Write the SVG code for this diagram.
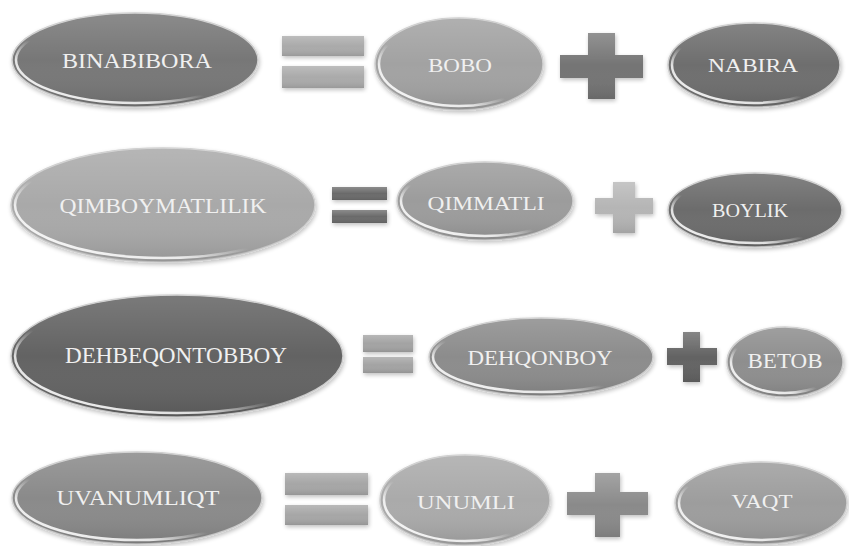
<svg xmlns="http://www.w3.org/2000/svg" width="849" height="546" viewBox="0 0 849 546">
<defs>
  <linearGradient id="shade" x1="0" y1="0" x2="0" y2="1">
    <stop offset="0" stop-color="#ffffff" stop-opacity="0.15"/>
    <stop offset="0.5" stop-color="#ffffff" stop-opacity="0"/>
    <stop offset="1" stop-color="#000000" stop-opacity="0.12"/>
  </linearGradient>
  <linearGradient id="gloss" x1="0" y1="1" x2="0.7" y2="0.2">
    <stop offset="0" stop-color="#ffffff" stop-opacity="0.95"/>
    <stop offset="0.35" stop-color="#ffffff" stop-opacity="0.8"/>
    <stop offset="0.55" stop-color="#ffffff" stop-opacity="0"/>
  </linearGradient>
  <linearGradient id="bar" x1="0" y1="0" x2="0" y2="1">
    <stop offset="0" stop-color="#ffffff" stop-opacity="0.22"/>
    <stop offset="0.5" stop-color="#ffffff" stop-opacity="0"/>
    <stop offset="1" stop-color="#000000" stop-opacity="0.1"/>
  </linearGradient>
  <filter id="sh" x="-10%" y="-10%" width="120%" height="130%">
    <feGaussianBlur in="SourceAlpha" stdDeviation="2"/>
    <feOffset dx="1" dy="2" result="b"/>
    <feComponentTransfer><feFuncA type="linear" slope="0.25"/></feComponentTransfer>
    <feMerge><feMergeNode/><feMergeNode in="SourceGraphic"/></feMerge>
  </filter>
</defs>
<style>
  .rim { stroke: #cfcfcf; stroke-width: 1.5; filter: url(#sh); }
  .ov { fill: url(#shade); }
  .gl { fill: none; stroke: url(#gloss); stroke-width: 2.5; }
  .lbl { font-family: "Liberation Serif", "DejaVu Serif", serif; fill: #f0f0f0; text-anchor: middle; }
  .op { filter: url(#sh); }
  .opov { fill: url(#bar); }
</style>
<rect width="849" height="546" fill="#ffffff"/>

<!-- Row 1 -->
<g id="binabibora">
  <ellipse class="rim" cx="135" cy="60" rx="123" ry="47" fill="#777777"/>
  <ellipse class="ov" cx="135" cy="60" rx="123" ry="47"/>
  <ellipse class="gl" cx="135" cy="60" rx="119" ry="43"/>
  <text class="lbl" x="137" y="68" font-size="21" textLength="150" lengthAdjust="spacingAndGlyphs">BINABIBORA</text>
</g>
<g id="eq1" class="op" fill="#aaaaaa">
  <rect x="282" y="36" width="82" height="20"/>
  <rect x="282" y="66" width="82" height="22"/>
  <rect class="opov" x="282" y="36" width="82" height="20"/>
  <rect class="opov" x="282" y="66" width="82" height="22"/>
</g>
<g id="bobo">
  <ellipse class="rim" cx="459" cy="64" rx="84" ry="46" fill="#a2a2a2"/>
  <ellipse class="ov" cx="459" cy="64" rx="84" ry="46"/>
  <ellipse class="gl" cx="459" cy="64" rx="80" ry="42"/>
  <text class="lbl" x="460" y="72" font-size="18" textLength="64" lengthAdjust="spacingAndGlyphs">BOBO</text>
</g>
<g id="plus1" class="op">
  <path d="M588 33H615V55H643V78H615V99H588V78H560V55H588Z" fill="#747474"/>
  <path class="opov" d="M588 33H615V55H643V78H615V99H588V78H560V55H588Z"/>
</g>
<g id="nabira">
  <ellipse class="rim" cx="754" cy="65" rx="86" ry="42" fill="#6e6e6e"/>
  <ellipse class="ov" cx="754" cy="65" rx="86" ry="42"/>
  <ellipse class="gl" cx="754" cy="65" rx="82" ry="38"/>
  <text class="lbl" x="753" y="72" font-size="18" textLength="90" lengthAdjust="spacingAndGlyphs">NABIRA</text>
</g>

<!-- Row 2 -->
<g id="qimboymatlilik">
  <ellipse class="rim" cx="163" cy="205" rx="152" ry="57" fill="#a9a9a9"/>
  <ellipse class="ov" cx="163" cy="205" rx="152" ry="57"/>
  <ellipse class="gl" cx="163" cy="205" rx="148" ry="53"/>
  <text class="lbl" x="163" y="213" font-size="20" textLength="207" lengthAdjust="spacingAndGlyphs">QIMBOYMATLILIK</text>
</g>
<g id="eq2" class="op" fill="#6b6b6b">
  <rect x="332" y="187" width="55" height="13"/>
  <rect x="332" y="210" width="55" height="13"/>
  <rect class="opov" x="332" y="187" width="55" height="13"/>
  <rect class="opov" x="332" y="210" width="55" height="13"/>
</g>
<g id="qimmatli">
  <ellipse class="rim" cx="485" cy="201" rx="88" ry="39" fill="#9c9c9c"/>
  <ellipse class="ov" cx="485" cy="201" rx="88" ry="39"/>
  <ellipse class="gl" cx="485" cy="201" rx="84" ry="35"/>
  <text class="lbl" x="486" y="210" font-size="18" textLength="117" lengthAdjust="spacingAndGlyphs">QIMMATLI</text>
</g>
<g id="plus2" class="op">
  <path d="M613 182H635V198H653V214H635V233H613V214H595V198H613Z" fill="#b5b5b5"/>
  <path class="opov" d="M613 182H635V198H653V214H635V233H613V214H595V198H613Z"/>
</g>
<g id="boylik">
  <ellipse class="rim" cx="755" cy="210" rx="87" ry="37" fill="#6c6c6c"/>
  <ellipse class="ov" cx="755" cy="210" rx="87" ry="37"/>
  <ellipse class="gl" cx="755" cy="210" rx="83" ry="33"/>
  <text class="lbl" x="750" y="217" font-size="18" textLength="76" lengthAdjust="spacingAndGlyphs">BOYLIK</text>
</g>

<!-- Row 3 -->
<g id="dehbeqontobboy">
  <ellipse class="rim" cx="177" cy="356" rx="166" ry="61" fill="#646464"/>
  <ellipse class="ov" cx="177" cy="356" rx="166" ry="61"/>
  <ellipse class="gl" cx="177" cy="356" rx="162" ry="57"/>
  <text class="lbl" x="176" y="363" font-size="23" textLength="222" lengthAdjust="spacingAndGlyphs">DEHBEQONTOBBOY</text>
</g>
<g id="eq3" class="op" fill="#a3a3a3">
  <rect x="363" y="335" width="50" height="17"/>
  <rect x="363" y="357" width="50" height="16"/>
  <rect class="opov" x="363" y="335" width="50" height="17"/>
  <rect class="opov" x="363" y="357" width="50" height="16"/>
</g>
<g id="dehqonboy">
  <ellipse class="rim" cx="541" cy="357" rx="112" ry="39" fill="#8c8c8c"/>
  <ellipse class="ov" cx="541" cy="357" rx="112" ry="39"/>
  <ellipse class="gl" cx="541" cy="357" rx="108" ry="35"/>
  <text class="lbl" x="540" y="365" font-size="22" textLength="145" lengthAdjust="spacingAndGlyphs">DEHQONBOY</text>
</g>
<g id="plus3" class="op">
  <path d="M683 332H700V348H717V365H700V382H683V365H667V348H683Z" fill="#636363"/>
  <path class="opov" d="M683 332H700V348H717V365H700V382H683V365H667V348H683Z"/>
</g>
<g id="betob">
  <ellipse class="rim" cx="785" cy="362" rx="58" ry="35" fill="#8e8e8e"/>
  <ellipse class="ov" cx="785" cy="362" rx="58" ry="35"/>
  <ellipse class="gl" cx="785" cy="362" rx="54" ry="31"/>
  <text class="lbl" x="785" y="368" font-size="22" textLength="75" lengthAdjust="spacingAndGlyphs">BETOB</text>
</g>

<!-- Row 4 -->
<g id="uvanumliqt">
  <ellipse class="rim" cx="137" cy="498" rx="125" ry="46" fill="#8a8a8a"/>
  <ellipse class="ov" cx="137" cy="498" rx="125" ry="46"/>
  <ellipse class="gl" cx="137" cy="498" rx="121" ry="42"/>
  <text class="lbl" x="138" y="505" font-size="20" textLength="163" lengthAdjust="spacingAndGlyphs">UVANUMLIQT</text>
</g>
<g id="eq4" class="op" fill="#a6a6a6">
  <rect x="285" y="473" width="83" height="22"/>
  <rect x="285" y="505" width="83" height="20"/>
  <rect class="opov" x="285" y="473" width="83" height="22"/>
  <rect class="opov" x="285" y="505" width="83" height="20"/>
</g>
<g id="unumli">
  <ellipse class="rim" cx="465" cy="500" rx="85" ry="45" fill="#aaaaaa"/>
  <ellipse class="ov" cx="465" cy="500" rx="85" ry="45"/>
  <ellipse class="gl" cx="465" cy="500" rx="81" ry="41"/>
  <text class="lbl" x="466" y="509" font-size="18" textLength="98" lengthAdjust="spacingAndGlyphs">UNUMLI</text>
</g>
<g id="plus4" class="op">
  <path d="M595 473H620V492H648V515H620V537H595V515H567V492H595Z" fill="#8a8a8a"/>
  <path class="opov" d="M595 473H620V492H648V515H620V537H595V515H567V492H595Z"/>
</g>
<g id="vaqt">
  <ellipse class="rim" cx="761" cy="503" rx="86" ry="41" fill="#9d9d9d"/>
  <ellipse class="ov" cx="761" cy="503" rx="86" ry="41"/>
  <ellipse class="gl" cx="761" cy="503" rx="82" ry="37"/>
  <text class="lbl" x="762" y="508" font-size="19" textLength="61" lengthAdjust="spacingAndGlyphs">VAQT</text>
</g>

<g id="connectors"/>
</svg>
